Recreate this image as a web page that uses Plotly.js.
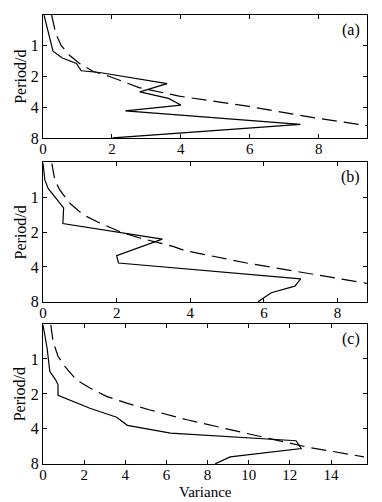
<!DOCTYPE html>
<html>
<head>
<meta charset="utf-8">
<script src="https://cdn.plot.ly/plotly-3.0.1.min.js"></script>
<style>html,body{margin:0;padding:0;background:#fff;}#chart{width:382px;height:502px;}</style>
</head>
<body>
<div id="chart"></div>
<script>
// Panel (a)
const aSolidVar    = [0.03, 0.17, 0.24, 0.29, 0.56, 0.97, 1.11, 1.64, 3.60, 2.81, 3.64, 4.00, 2.39, 7.47, 2.02];
const aSolidPeriod = [0.50, 0.76, 0.92, 1.13, 1.32, 1.49, 1.76, 1.83, 2.35, 2.83, 3.28, 3.81, 4.35, 5.90, 8.00];
const aDashVar     = [0.25, 0.37, 0.53, 0.77, 1.06, 1.45, 1.93, 2.31, 2.79, 3.95, 5.88, 7.80, 9.40];
const aDashPeriod  = [0.50, 0.76, 1.00, 1.24, 1.49, 1.78, 2.00, 2.25, 2.57, 3.12, 3.89, 5.03, 6.06];
// Panel (b)
const bSolidVar    = [0.00, 0.05, 0.14, 0.32, 0.56, 0.54, 3.24, 2.00, 2.05, 7.00, 6.84, 6.20, 5.84];
const bSolidPeriod = [0.51, 0.71, 0.84, 0.99, 1.24, 1.69, 2.30, 3.20, 3.70, 5.07, 5.86, 6.68, 8.00];
const bDashVar     = [0.24, 0.32, 0.45, 0.73, 1.09, 1.54, 2.13, 2.63, 3.53, 3.85, 5.53, 7.34, 8.80];
const bDashPeriod  = [0.51, 0.71, 0.86, 1.13, 1.42, 1.67, 2.01, 2.25, 2.66, 2.89, 3.70, 4.66, 5.55];
// Panel (c)
const cSolidVar    = [0.00, 0.20, 0.33, 0.62, 0.73, 0.73, 2.28, 3.58, 4.10, 6.20, 12.30, 12.55, 9.10, 8.37];
const cSolidPeriod = [0.51, 0.81, 1.28, 1.52, 1.67, 2.06, 2.66, 3.18, 3.73, 4.35, 5.06, 5.90, 6.96, 8.00];
const cDashVar     = [0.38, 0.49, 0.73, 1.06, 1.63, 2.28, 3.09, 4.07, 5.20, 7.00, 9.92, 12.85, 15.60];
const cDashPeriod  = [0.51, 0.71, 0.95, 1.16, 1.52, 1.78, 2.10, 2.40, 2.75, 3.34, 4.38, 5.74, 6.96];

const periodTicks = [1, 2, 4, 8];
const periodTickText = ['1', '2', '4', '8'];
const panelLabels = ['(a)', '(b)', '(c)'];
const xMax = [9.4, 8.8, 15.75];
const xTitle = 'Variance';
const yTitle = 'Period/d';

const FONT = 'Liberation Serif, Times New Roman, DejaVu Serif, serif';
const FS = 15;
const solidLine = {color: '#000', width: 1.2};
const dashLine = {color: '#000', width: 1.2, dash: '15px,7px'};

const traces = [
  {x: aSolidVar, y: aSolidPeriod, xaxis: 'x', yaxis: 'y', mode: 'lines', line: solidLine},
  {x: aDashVar, y: aDashPeriod, xaxis: 'x', yaxis: 'y', mode: 'lines', line: dashLine},
  {x: bSolidVar, y: bSolidPeriod, xaxis: 'x2', yaxis: 'y2', mode: 'lines', line: solidLine},
  {x: bDashVar, y: bDashPeriod, xaxis: 'x2', yaxis: 'y2', mode: 'lines', line: dashLine},
  {x: cSolidVar, y: cSolidPeriod, xaxis: 'x3', yaxis: 'y3', mode: 'lines', line: solidLine},
  {x: cDashVar, y: cDashPeriod, xaxis: 'x3', yaxis: 'y3', mode: 'lines', line: dashLine}
];

const domains = [[0.726, 1.0], [0.361, 0.672], [0.0, 0.312]];

function xAxis(i, anchor) {
  return {
    anchor: anchor, range: [0, xMax[i]], dtick: 2, tick0: 0,
    showline: true, linecolor: '#000', linewidth: 1, mirror: 'ticks',
    ticks: 'inside', ticklen: 4, tickcolor: '#000', showgrid: false, zeroline: false,
    ticklabelstandoff: -3,
    tickfont: {family: FONT, size: FS, color: '#000'}
  };
}
function yAxis(anchor, domain) {
  return {
    anchor: anchor, domain: domain, type: 'log',
    range: [Math.log10(8.02), Math.log10(0.5)],
    tickvals: periodTicks, ticktext: periodTickText,
    showline: true, linecolor: '#000', linewidth: 1, mirror: 'ticks',
    ticks: 'inside', ticklen: 4, tickcolor: '#000', showgrid: false, zeroline: false,
    tickfont: {family: FONT, size: 16, color: '#000'}
  };
}

const annotations = panelLabels.map((t, i) => ({
  text: t, xref: (i === 0 ? 'x' : 'x' + (i + 1)) + ' domain', yref: (i === 0 ? 'y' : 'y' + (i + 1)) + ' domain',
  x: 0.985, y: 0.97, xanchor: 'right', yanchor: 'top', showarrow: false,
  font: {family: FONT, size: 16, color: '#000'}
}));
domains.forEach(d => {
  annotations.push({
    text: yTitle, xref: 'paper', yref: 'paper', x: -0.07, y: (d[0] + d[1]) / 2,
    xanchor: 'center', yanchor: 'middle', textangle: -90, showarrow: false,
    font: {family: FONT, size: 16, color: '#000'}
  });
});
annotations.push({
  text: xTitle, xref: 'paper', yref: 'paper', x: 0.5, y: -0.083,
  xanchor: 'center', yanchor: 'bottom', showarrow: false, borderpad: 0,
  font: {family: FONT, size: 15, color: '#000'}
});

const layout = {
  width: 382, height: 502,
  margin: {l: 43, r: 15, t: 15, b: 38},
  paper_bgcolor: '#fff', plot_bgcolor: '#fff',
  showlegend: false,
  font: {family: FONT, size: FS, color: '#000'},
  xaxis: xAxis(0, 'y'),
  yaxis: yAxis('x', domains[0]),
  xaxis2: xAxis(1, 'y2'),
  yaxis2: yAxis('x2', domains[1]),
  xaxis3: xAxis(2, 'y3'),
  yaxis3: yAxis('x3', domains[2]),
  annotations: annotations
};

Plotly.newPlot('chart', traces, layout, {displayModeBar: false, staticPlot: true});
</script>
</body>
</html>
